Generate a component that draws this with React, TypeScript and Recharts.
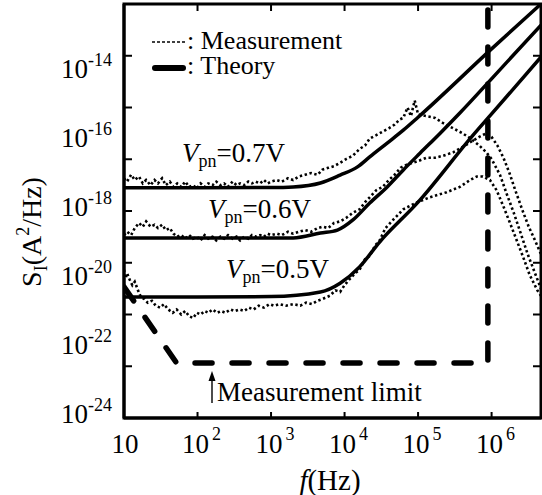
import React from 'react';
import { LineChart, Line, XAxis, YAxis } from 'recharts';

// f (Hz), S_I (A^2/Hz)
const theory07 = [[10, 4.7e-18], [100, 4.7e-18], [1000, 4.8e-18], [2000, 5.0e-18], [4700, 6.5e-18], [8700, 1.1e-17], [15000, 1.9e-17], [22000, 3.7e-17], [38000, 9.3e-17], [63000, 2.2e-16], [100000, 5.2e-16], [1e6, 5.0e-14], [4.7e6, 1.0e-12]];
const theory06 = [[10, 1.66e-19], [100, 1.66e-19], [2000, 1.66e-19], [4700, 2.3e-19], [8000, 2.8e-19], [13000, 5.5e-19], [22000, 1.7e-18], [38000, 5.0e-18], [63000, 1.55e-17], [107000, 4.8e-17], [200000, 1.8e-16], [370000, 6.9e-16], [1.05e6, 7.6e-15], [4.7e6, 2.45e-13]];
const theory05 = [[10, 3.2e-21], [100, 3.2e-21], [1000, 3.3e-21], [4700, 4.5e-21], [8700, 8.1e-21], [16000, 2.4e-20], [30000, 1.26e-19], [100000, 1.8e-18], [560000, 1.58e-16], [1e6, 6.5e-16], [4.7e6, 2.9e-14]];

const measLimit = [[10, 6.3e-21], [52, 3.9e-23], [8.9e5, 3.9e-23], [8.9e5, 1e-12]];

const meas07 = [
  [10, 8.9e-18], [11, 7.1e-18], [12.5, 1.12e-17], [14, 7.9e-18], [16, 1.0e-17], [18, 6.3e-18], [20, 7.9e-18], [23, 5.6e-18],
  [26, 7.9e-18], [29, 6.3e-18], [33, 8.9e-18], [37, 5.6e-18], [42, 7.1e-18], [47, 5.0e-18], [53, 6.3e-18], [60, 5.0e-18],
  [68, 7.1e-18], [77, 5.0e-18], [87, 5.6e-18], [98, 4.5e-18], [110, 6.3e-18], [125, 5.0e-18], [140, 6.3e-18], [160, 5.6e-18],
  [180, 7.1e-18], [205, 5.6e-18], [230, 6.3e-18], [260, 5.0e-18], [300, 7.1e-18], [340, 5.6e-18], [380, 6.3e-18], [430, 5.6e-18],
  [490, 7.1e-18], [550, 6.3e-18], [620, 7.1e-18], [710, 6.3e-18], [800, 7.9e-18], [900, 6.3e-18], [1000, 7.1e-18], [1200, 7.9e-18],
  [1400, 7.1e-18], [1700, 8.9e-18], [2000, 7.9e-18], [2400, 1.0e-17], [2900, 1.12e-17], [3500, 1.26e-17], [4300, 1.12e-17],
  [5000, 1.58e-17], [6000, 1.78e-17], [7200, 2.0e-17], [8700, 2.5e-17], [10500, 3.2e-17], [13000, 4.0e-17], [16000, 6.3e-17],
  [19000, 7.9e-17], [22000, 1.26e-16], [27000, 1.58e-16], [33000, 2.0e-16], [40000, 2.5e-16], [48000, 3.2e-16], [56000, 4.5e-16],
  [63000, 5.0e-16], [72000, 1.0e-15], [80000, 5.6e-16], [90000, 1.6e-15], [100000, 6.3e-16], [130000, 5.6e-16], [170000, 5.0e-16],
  [220000, 3.5e-16], [300000, 2.5e-16], [400000, 1.8e-16], [520000, 1.26e-16], [680000, 7.9e-17], [850000, 5.0e-17], [1e6, 3.2e-17],
  [1.3e6, 1.12e-17], [1.6e6, 3.2e-18], [2.0e6, 8.9e-19], [2.5e6, 2.2e-19], [3.1e6, 5.6e-20], [3.8e6, 1.8e-20], [4.7e6, 5.6e-21],
];

const meas06 = [
  [10, 2.0e-19], [11, 2.5e-19], [12.5, 2.0e-19], [14, 3.2e-19], [16, 4.5e-19], [18, 3.5e-19], [20, 5.0e-19], [23, 3.5e-19],
  [26, 4.0e-19], [29, 3.2e-19], [33, 4.0e-19], [37, 2.8e-19], [42, 3.2e-19], [47, 2.2e-19], [53, 1.8e-19], [60, 2.0e-19],
  [68, 1.58e-19], [77, 2.0e-19], [87, 1.58e-19], [98, 1.8e-19], [110, 1.4e-19], [125, 2.0e-19], [140, 1.58e-19], [160, 1.8e-19],
  [180, 1.4e-19], [205, 1.8e-19], [230, 1.58e-19], [260, 2.0e-19], [300, 1.58e-19], [340, 1.8e-19], [380, 1.4e-19], [430, 1.8e-19],
  [490, 1.58e-19], [550, 2.0e-19], [620, 1.8e-19], [710, 2.0e-19], [800, 1.8e-19], [900, 2.2e-19], [1000, 2.0e-19], [1200, 2.2e-19],
  [1400, 2.0e-19], [1700, 2.5e-19], [2000, 2.2e-19], [2400, 2.5e-19], [2900, 2.8e-19], [3500, 2.5e-19], [4300, 3.2e-19],
  [5000, 3.5e-19], [6000, 3.2e-19], [7200, 4.5e-19], [8700, 5.0e-19], [10500, 6.3e-19], [13000, 8.9e-19], [16000, 1.12e-18],
  [19000, 1.8e-18], [22000, 2.5e-18], [27000, 4.0e-18], [33000, 5.0e-18], [40000, 7.9e-18], [48000, 1.12e-17], [58000, 1.8e-17],
  [70000, 2.2e-17], [85000, 2.5e-17], [100000, 2.8e-17], [130000, 3.5e-17], [170000, 3.5e-17], [220000, 4.0e-17], [300000, 5.0e-17],
  [400000, 7.1e-17], [520000, 1.0e-16], [680000, 1.4e-16], [850000, 1.8e-16], [1e6, 1.4e-16], [1.2e6, 7.9e-17], [1.45e6, 3.5e-17],
  [1.75e6, 1.26e-17], [2.1e6, 4.0e-18], [2.6e6, 1.12e-18], [3.2e6, 3.5e-19], [3.9e6, 1.4e-19], [4.7e6, 5.6e-20],
];

const meas05 = [
  [10, 2.0e-20], [10.5, 1.12e-20], [11, 1.58e-20], [12, 1.0e-20], [13, 7.1e-21], [14, 8.9e-21], [15.5, 5.0e-21], [17, 3.2e-21],
  [19, 2.8e-21], [21, 2.2e-21], [24, 2.5e-21], [27, 1.8e-21], [31, 1.58e-21], [35, 2.0e-21], [40, 1.4e-21], [46, 1.12e-21],
  [52, 1.4e-21], [60, 1.0e-21], [68, 1.26e-21], [77, 8.9e-22], [87, 7.9e-22], [98, 1.12e-21], [110, 1.0e-21], [125, 1.26e-21],
  [140, 1.12e-21], [160, 1.4e-21], [185, 1.12e-21], [210, 1.26e-21], [240, 1.12e-21], [280, 1.4e-21], [320, 1.26e-21], [370, 1.4e-21],
  [430, 1.26e-21], [500, 1.58e-21], [580, 1.4e-21], [680, 1.8e-21], [800, 1.58e-21], [950, 2.0e-21], [1100, 1.8e-21], [1300, 2.0e-21],
  [1600, 1.8e-21], [2000, 2.0e-21], [2500, 1.8e-21], [3000, 2.2e-21], [3600, 2.0e-21], [4300, 2.5e-21], [5000, 2.8e-21],
  [6300, 3.5e-21], [7500, 5.0e-21], [8700, 4.5e-21], [10000, 7.1e-21], [12000, 1.12e-20], [14000, 1.58e-20], [16000, 2.0e-20],
  [19000, 4.0e-20], [22000, 5.0e-20], [26000, 1.0e-19], [30000, 1.4e-19], [36000, 3.2e-19], [46000, 5.6e-19], [63000, 1.12e-18],
  [98000, 1.8e-18], [145000, 2.5e-18], [245000, 3.5e-18], [370000, 5.0e-18], [510000, 7.9e-18], [630000, 1.0e-17], [760000, 1.0e-17],
  [950000, 7.9e-18], [1.17e6, 4.0e-18], [1.44e6, 1.4e-18], [1.78e6, 4.5e-19], [2.2e6, 1.4e-19], [2.7e6, 4.5e-20], [3.3e6, 1.4e-20],
  [4.2e6, 5.0e-21], [4.7e6, 3.5e-21],
];

const xTicks = [10, 100, 1e3, 1e4, 1e5, 1e6];
const yLabelTicks = [1e-24, 1e-22, 1e-20, 1e-18, 1e-16, 1e-14];
const yMarkTicks = [3.16e-23, 1e-21, 3.16e-20, 1e-18, 3.16e-17, 1e-15, 3.16e-14];
const yAllTicks = Array.from(new Set([...yLabelTicks, ...yMarkTicks])).sort((a, b) => a - b);
const X_DOMAIN = [10, 4.7e6];
const Y_DOMAIN = [1e-24, 1e-12];

// layout
const W = 542;
const H = 495;
const margin = { top: 4, right: 1, bottom: 37, left: 44 };
const Y_AXIS_W = 80;
const X_AXIS_H = 40;
const PL = margin.left + Y_AXIS_W;
const PT = margin.top;
const PW = W - margin.right - PL;
const PH = H - margin.bottom - X_AXIS_H - PT;

// same log mapping as the axes, used only for the frame's mirrored ticks
const lx = (f: number) => PL + (PW * Math.log10(f / X_DOMAIN[0])) / Math.log10(X_DOMAIN[1] / X_DOMAIN[0]);
const ly = (v: number) => PT + PH - (PH * Math.log10(v / Y_DOMAIN[0])) / Math.log10(Y_DOMAIN[1] / Y_DOMAIN[0]);

const FONT = "'Liberation Serif', 'Times New Roman', Times, 'DejaVu Serif', serif";
const txt = { fontFamily: FONT, fill: '#000' };

const pts = (arr: number[][]) => arr.map(([f, s]) => ({ f, s }));

const LeftTick = (props: any) => {
  const { x, y, payload } = props;
  const v = payload.value;
  const exp = Math.round(Math.log10(v));
  return (
    <g>
      {yMarkTicks.includes(v) && <line x1={x} x2={x + 8} y1={y} y2={y} stroke="#000" strokeWidth={2} />}
      {yLabelTicks.includes(v) && (
        <text x={x - 12} y={y + 5} textAnchor="end" fontSize={27} style={txt}>
          10<tspan dy={-12} fontSize={18}>{String(exp)}</tspan>
        </text>
      )}
    </g>
  );
};

const BottomTick = (props: any) => {
  const { x, y, payload } = props;
  const exp = Math.round(Math.log10(payload.value));
  return (
    <g>
      <line x1={x} x2={x} y1={y} y2={y - 6} stroke="#000" strokeWidth={2} />
      {exp === 1 ? (
        <text x={x + 1} y={y + 35} textAnchor="middle" fontSize={27} style={txt}>10</text>
      ) : (
        <text x={x + 4} y={y + 35} textAnchor="middle" fontSize={27} style={txt}>
          10<tspan dx={3} dy={-13} fontSize={18}>{String(exp)}</tspan>
        </text>
      )}
    </g>
  );
};

const axisLine = { stroke: '#000', strokeWidth: 3 };

const VLabel = ({ x, y, v }: { x: number; y: number; v: string }) => (
  <text x={x} y={y} fontSize={27} style={txt}>
    <tspan fontStyle="italic">V</tspan>
    <tspan dy={5} fontSize={18}>pn</tspan>
    <tspan dy={-5}>{`=${v}V`}</tspan>
  </text>
);

export default function App() {
  return (
    <div style={{ position: 'absolute', left: 0, top: 0, width: W, height: H }}>
      <LineChart width={W} height={H} margin={margin}>
        <XAxis
          dataKey="f"
          type="number"
          scale="log"
          domain={X_DOMAIN}
          allowDataOverflow
          ticks={xTicks}
          interval={0}
          height={X_AXIS_H}
          tick={<BottomTick />}
          tickLine={false}
          tickSize={0}
          tickMargin={0}
          axisLine={axisLine}
        />
        <YAxis
          type="number"
          scale="log"
          domain={Y_DOMAIN}
          allowDataOverflow
          ticks={yAllTicks}
          interval={0}
          width={Y_AXIS_W}
          tick={<LeftTick />}
          tickLine={false}
          tickSize={0}
          tickMargin={0}
          axisLine={axisLine}
        />

        {[meas07, meas06, meas05].map((d, i) => (
          <Line
            key={'m' + i}
            data={pts(d)}
            dataKey="s"
            type="linear"
            stroke="#000"
            strokeWidth={2.6}
            strokeDasharray="2.4 2.6"
            dot={false}
            isAnimationActive={false}
          />
        ))}
        {[theory07, theory06, theory05].map((d, i) => (
          <Line
            key={'t' + i}
            data={pts(d)}
            dataKey="s"
            type="monotone"
            stroke="#000"
            strokeWidth={3.5}
            dot={false}
            isAnimationActive={false}
          />
        ))}
        <Line
          data={pts(measLimit)}
          dataKey="s"
          type="linear"
          stroke="#000"
          strokeWidth={5.5}
          strokeDasharray="17 20"
          strokeLinecap="round"
          strokeLinejoin="round"
          dot={false}
          isAnimationActive={false}
        />

        {/* legend */}
        <line x1={152} x2={185} y1={42} y2={42} stroke="#000" strokeWidth={1.5} strokeDasharray="3 2" />
        <text x={187} y={49} fontSize={26} style={txt}>: Measurement</text>
        <line x1={155} x2={183} y1={68} y2={68} stroke="#000" strokeWidth={6} strokeLinecap="round" />
        <text x={187} y={74} fontSize={26} style={txt}>: Theory</text>

        <VLabel x={182} y={162} v="0.7" />
        <VLabel x={208} y={218} v="0.6" />
        <VLabel x={226} y={278} v="0.5" />

        <line x1={212} x2={212} y1={403} y2={378} stroke="#000" strokeWidth={1.4} />
        <polygon points="212,371 208.5,381 215.5,381" fill="#000" />
        <text x={217} y={401} fontSize={27} style={txt}>Measurement limit</text>

        <text transform="translate(41,232) rotate(-90)" textAnchor="middle" fontSize={28} style={txt}>
          S<tspan dy={6} fontSize={18}>I</tspan>
          <tspan dy={-6}>(A</tspan>
          <tspan dy={-12} fontSize={18}>2</tspan>
          <tspan dy={12}>/Hz)</tspan>
        </text>
        <text x={330} y={490} textAnchor="middle" fontSize={29} style={txt}>
          <tspan fontStyle="italic">f</tspan>(Hz)
        </text>
      </LineChart>

      {/* plot frame with inward ticks on the top and right sides */}
      <svg
        width={W}
        height={H}
        style={{ position: 'absolute', left: 0, top: 0, pointerEvents: 'none', overflow: 'visible' }}
      >
        <rect x={PL} y={PT} width={PW} height={PH} fill="none" stroke="#000" strokeWidth={3} />
        {xTicks.map((f) => (
          <line key={'tt' + f} x1={lx(f)} x2={lx(f)} y1={PT} y2={PT + 7} stroke="#000" strokeWidth={2} />
        ))}
        {yMarkTicks.map((v) => (
          <line key={'rt' + v} x1={PL + PW} x2={PL + PW - 8} y1={ly(v)} y2={ly(v)} stroke="#000" strokeWidth={2} />
        ))}
      </svg>
    </div>
  );
}
